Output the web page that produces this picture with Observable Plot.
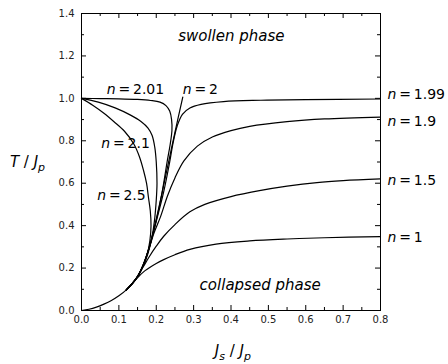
<!DOCTYPE html>
<html>
<head>
<meta charset="utf-8">
<script src="https://cdn.jsdelivr.net/npm/d3@7"></script>
<script src="https://cdn.jsdelivr.net/npm/@observablehq/plot@0.6"></script>
<style>
  html, body { margin: 0; padding: 0; background: #fff; }
  svg { display: block; }
</style>
</head>
<body>
<div id="chart"></div>
<script>
// ---- data ----
const xMajor = [0, 0.1, 0.2, 0.3, 0.4, 0.5, 0.6, 0.7, 0.8];
const xMinor = [0.05, 0.15, 0.25, 0.35, 0.45, 0.55, 0.65, 0.75];
const yMajor = [0, 0.2, 0.4, 0.6, 0.8, 1.0, 1.2, 1.4];
const yMinor = [0.1, 0.3, 0.5, 0.7, 0.9, 1.1, 1.3];

const trunk = [[0,0],[0.02,0.006],[0.04,0.016],[0.06,0.03],[0.08,0.047],[0.1,0.069],[0.12,0.097],[0.135,0.125],[0.15,0.16]];
const n1   = [[0.12,0.097],[0.135,0.125],[0.15,0.155],[0.17,0.188],[0.2,0.222],[0.22,0.24],[0.25,0.263],[0.29,0.288],[0.36,0.313],[0.45,0.328],[0.55,0.337],[0.65,0.343],[0.8,0.348]];
const n15  = [[0.12,0.097],[0.135,0.125],[0.15,0.16],[0.165,0.205],[0.18,0.25],[0.2,0.303],[0.22,0.35],[0.25,0.405],[0.29,0.465],[0.33,0.5],[0.4,0.537],[0.48,0.566],[0.55,0.586],[0.63,0.603],[0.7,0.612],[0.8,0.62]];
const n19  = [[0.12,0.097],[0.135,0.125],[0.15,0.16],[0.165,0.215],[0.18,0.29],[0.195,0.37],[0.211,0.44],[0.23,0.54],[0.25,0.625],[0.274,0.705],[0.31,0.775],[0.35,0.818],[0.4,0.848],[0.45,0.868],[0.55,0.89],[0.65,0.903],[0.8,0.912]];
const n199 = [[0.12,0.097],[0.135,0.125],[0.15,0.16],[0.165,0.215],[0.18,0.29],[0.2,0.42],[0.22,0.56],[0.236,0.7],[0.245,0.79],[0.256,0.87],[0.27,0.925],[0.29,0.955],[0.32,0.972],[0.38,0.985],[0.48,0.991],[0.6,0.994],[0.8,0.997]];
const n2   = [[0.12,0.097],[0.135,0.125],[0.15,0.16],[0.165,0.213],[0.18,0.29],[0.2,0.43],[0.215,0.55],[0.234,0.708],[0.25,0.84],[0.271,1.006]];
const n201 = [[0.12,0.097],[0.135,0.125],[0.15,0.16],[0.165,0.212],[0.18,0.29],[0.2,0.425],[0.215,0.55],[0.229,0.7],[0.237,0.78],[0.242,0.85],[0.241,0.9],[0.236,0.94],[0.226,0.966],[0.21,0.982],[0.185,0.99],[0.15,0.995],[0.1,0.998],[0.05,0.999],[0,1.0]];
const n21  = [[0.12,0.097],[0.135,0.125],[0.15,0.16],[0.165,0.21],[0.178,0.27],[0.188,0.34],[0.195,0.42],[0.2,0.52],[0.202,0.6],[0.2,0.7],[0.196,0.77],[0.189,0.825],[0.178,0.86],[0.16,0.89],[0.13,0.922],[0.09,0.955],[0.045,0.982],[0,1.0]];
const n25  = [[0.12,0.097],[0.135,0.125],[0.15,0.16],[0.163,0.205],[0.175,0.26],[0.183,0.33],[0.186,0.4],[0.184,0.47],[0.179,0.535],[0.174,0.6],[0.166,0.66],[0.155,0.725],[0.14,0.785],[0.115,0.845],[0.087,0.89],[0.06,0.93],[0.03,0.968],[0,1.0]];

const seriesNames = ["trunk","1","1.5","1.9","1.99","2","2.01","2.1","2.5"];
const seriesPts   = [trunk, n1, n15, n19, n199, n2, n201, n21, n25];

const innerLabelText = ["n=2.01","n=2","n=2.1","n=2.5"];
const innerLabelX    = [0.1445, 0.318, 0.118, 0.107];
const innerLabelY    = [1.04, 1.04, 0.788, 0.542];
const rightLabelText = ["n=1.99","n=1.9","n=1.5","n=1"];
const rightLabelX    = [0.819, 0.819, 0.819, 0.819];
const rightLabelY    = [1.017, 0.89, 0.613, 0.344];

const phaseText = ["swollen phase", "collapsed phase"];
const phaseX    = [0.401, 0.478];
const phaseY    = [1.292, 0.118];

// ---- build tables ----
const lines = [];
seriesPts.forEach((pts, k) => pts.forEach(([x, y]) => lines.push({n: seriesNames[k], x, y})));
const innerLabels = innerLabelText.map((t, i) => ({t, x: innerLabelX[i], y: innerLabelY[i]}));
const rightLabels = rightLabelText.map((t, i) => ({t, x: rightLabelX[i], y: rightLabelY[i]}));
const phases = phaseText.map((t, i) => ({t, x: phaseX[i], y: phaseY[i]}));

const W = 448, H = 364, mL = 81, mR = 68, mT = 13, mB = 54;
const fw = W - mL - mR, fh = H - mT - mB;
const big = 5, small = 3;
const TK = {stroke: "black", strokeWidth: 1};

const chart = Plot.plot({
  width: W,
  height: H,
  marginLeft: mL,
  marginRight: mR,
  marginTop: mT,
  marginBottom: mB,
  style: {fontFamily: "DejaVu Sans", background: "#fff", color: "#000"},
  x: {domain: [0, 0.8]},
  y: {domain: [0, 1.4]},
  marks: [
    Plot.axisX({ticks: xMajor, tickSize: 0, tickPadding: 5, tickFormat: ".1f", fontSize: 10, fill: "#222", label: null}),
    Plot.axisY({ticks: yMajor, tickSize: 0, tickPadding: 7, tickFormat: ".1f", fontSize: 10, fill: "#222", label: null}),
    // inward ticks on all four sides
    Plot.tickX(xMajor, {x: d => d, insetTop: fh - big, ...TK}),
    Plot.tickX(xMinor, {x: d => d, insetTop: fh - small, ...TK}),
    Plot.tickX(xMajor, {x: d => d, insetBottom: fh - big, ...TK}),
    Plot.tickX(xMinor, {x: d => d, insetBottom: fh - small, ...TK}),
    Plot.tickY(yMajor, {y: d => d, insetRight: fw - big, ...TK}),
    Plot.tickY(yMinor, {y: d => d, insetRight: fw - small, ...TK}),
    Plot.tickY(yMajor, {y: d => d, insetLeft: fw - big, ...TK}),
    Plot.tickY(yMinor, {y: d => d, insetLeft: fw - small, ...TK}),
    Plot.line(lines, {x: "x", y: "y", z: "n", curve: "catmull-rom", stroke: "black", strokeWidth: 1.2}),
    Plot.frame({stroke: "black", strokeWidth: 1}),
    Plot.text(innerLabels, {x: "x", y: "y", text: "t", textAnchor: "middle", fontSize: 14, fill: "black"}),
    Plot.text(rightLabels, {x: "x", y: "y", text: "t", textAnchor: "start", fontSize: 14, fill: "black"}),
    Plot.text(phases, {x: "x", y: "y", text: "t", fontSize: 15, fontStyle: "italic", fill: "black"}),
    Plot.text(["Js / Jp"], {x: [0.405], frameAnchor: "bottom", dy: 45, text: d => d, textAnchor: "middle", fontSize: 15, fill: "black"}),
    Plot.text(["T / Jp"], {y: [0.7], frameAnchor: "left", dx: -54, text: d => d, textAnchor: "middle", fontSize: 15, fill: "black"})
  ]
});

d3.select(chart).selectAll("text").each(function() {
  const t = this.textContent;
  if (!/^n=/.test(t)) return;
  const num = t.split("=")[1];
  const s = d3.select(this);
  s.text("");
  s.append("tspan").attr("font-style", "italic").text("n");
  s.append("tspan").text("\u2009=\u2009" + num);
});

function richTitle(node, parts) {
  const s = d3.select(node);
  s.text("");
  parts.forEach(p => {
    const ts = s.append("tspan").text(p.t);
    if (p.i) ts.attr("font-style", "italic");
    if (p.sub) ts.attr("font-size", 11).attr("dy", 4);
    if (p.up) ts.attr("dy", -4);
  });
}
d3.select(chart).selectAll("text").each(function() {
  const t = this.textContent;
  if (t === "Js / Jp") richTitle(this, [{t: "J", i: true}, {t: "s", i: true, sub: true}, {t: " / ", up: true}, {t: "J", i: true}, {t: "p", i: true, sub: true}]);
  else if (t === "T / Jp") richTitle(this, [{t: "T", i: true}, {t: " / "}, {t: "J", i: true}, {t: "p", i: true, sub: true}]);
});

document.getElementById("chart").appendChild(chart);
</script>
</body>
</html>
